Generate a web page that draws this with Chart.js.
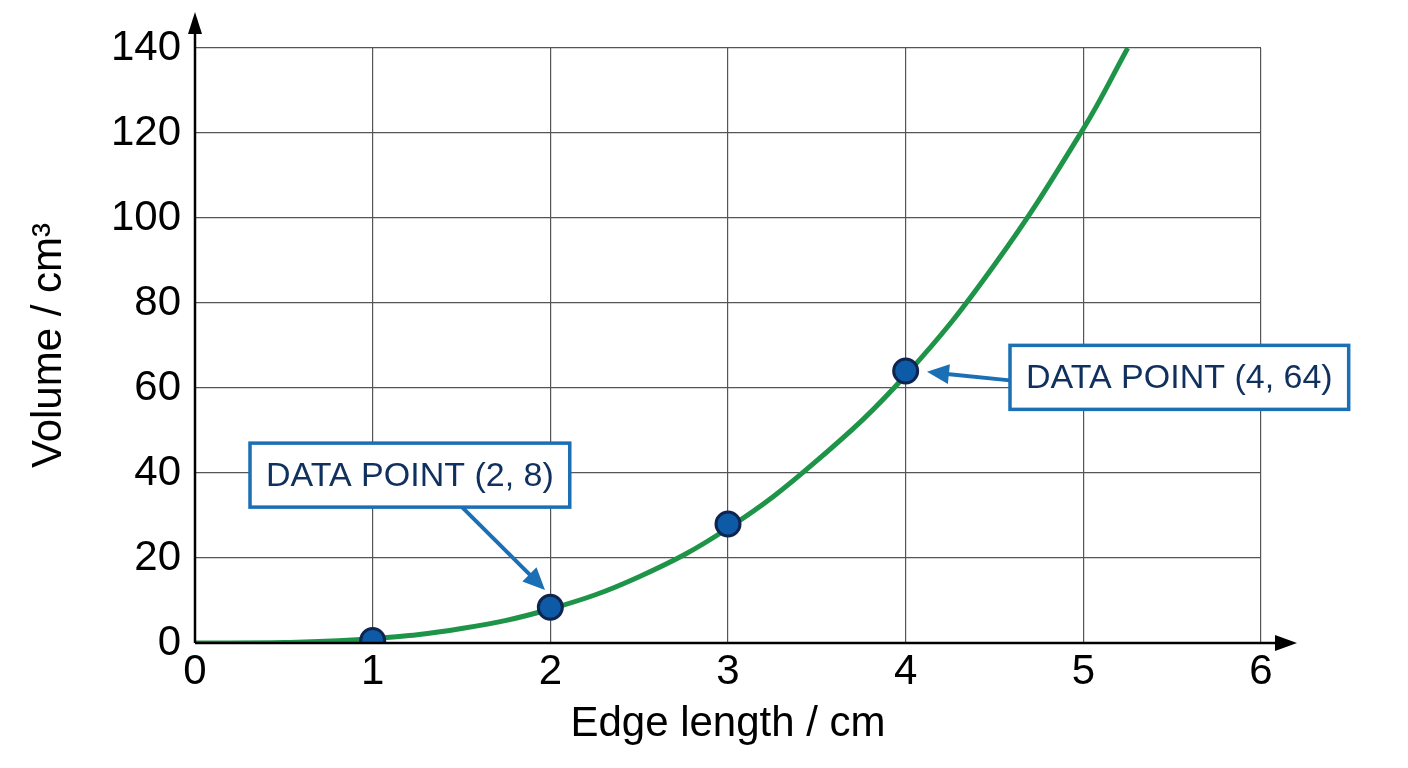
<!DOCTYPE html>
<html><head><meta charset="utf-8">
<script src="https://cdn.jsdelivr.net/npm/chart.js@4"></script>
<style>html,body{margin:0;background:#fff}#w{width:1408px;height:768px}</style>
</head><body><div id="w"><canvas id="c"></canvas></div>
<script>
const curveX = [0,0.5,1,1.5,2,2.5,3,3.5,4,4.5,5,5.25];
const curveY = [0,0.12,1,3.4,8,15.6,27,42.9,63,89,121,140];
const pointX = [1,2,3,4];
const pointY = [0.6,8.4,28,64];
const xTicks = [0,1,2,3,4,5,6];
const yTicks = [0,20,40,60,80,100,120,140];
const callouts = [
  {text:'DATA POINT (2, 8)', by:39.5, ax:1.97, ay:12.5, sx:462},
  {text:'DATA POINT (4, 64)', by:62.5, ax:4.12, ay:63.8}
];
const FONT = '"Liberation Sans", Arial, sans-serif';
const deco = {
  id:'deco',
  afterDraw(ch){
    const c=ch.ctx, xs=ch.scales.x, ys=ch.scales.y, a=ch.chartArea;
    c.save();
    c.fillStyle='#000';c.strokeStyle='#000';c.lineWidth=2.5;
    c.beginPath();c.moveTo(a.left,a.bottom);c.lineTo(a.right+30,a.bottom);c.stroke();
    c.beginPath();c.moveTo(a.left,a.bottom);c.lineTo(a.left,a.top-25);c.stroke();
    c.beginPath();c.moveTo(a.right+36,a.bottom);c.lineTo(a.right+14,a.bottom-8);c.lineTo(a.right+14,a.bottom+8);c.fill();
    c.beginPath();c.moveTo(a.left,a.top-36);c.lineTo(a.left-7,a.top-14);c.lineTo(a.left+7,a.top-14);c.fill();
    c.font='34px '+FONT;c.textBaseline='middle';
    callouts.forEach((o,i)=>{
      const py=ys.getPixelForValue(o.by);
      const w=c.measureText(o.text).width+32, h=64;
      const by=py-h/2;
      const bx = i===0 ? 250 : 1010;
      const tx=xs.getPixelForValue(o.ax), ty=ys.getPixelForValue(o.ay);
      const sx = i===0 ? o.sx : bx, sy = i===0 ? by+h : py+3;
      c.strokeStyle='#1a6fb5';c.fillStyle='#1a6fb5';c.lineWidth=4;
      const ang=Math.atan2(ty-sy,tx-sx), L=22;
      const ex=tx-Math.cos(ang)*L*0.8, ey=ty-Math.sin(ang)*L*0.8;
      c.beginPath();c.moveTo(sx,sy);c.lineTo(ex,ey);c.stroke();
      c.beginPath();c.moveTo(tx,ty);
      c.lineTo(tx-Math.cos(ang)*L+Math.sin(ang)*10,ty-Math.sin(ang)*L-Math.cos(ang)*10);
      c.lineTo(tx-Math.cos(ang)*L-Math.sin(ang)*10,ty-Math.sin(ang)*L+Math.cos(ang)*10);c.fill();
      c.fillStyle='#fff';c.fillRect(bx,by,w,h);
      c.lineWidth=3.5;c.strokeRect(bx,by,w,h);
      c.fillStyle='#10305e';c.fillText(o.text,bx+16,by+h/2+1);
    });
    c.restore();
  }
};
new Chart(document.getElementById('c'),{
  type:'scatter',
  data:{datasets:[
    {type:'line',data:pointX.map((x,i)=>({x,y:pointY[i]})),showLine:false,pointRadius:12,pointBackgroundColor:'#0d5aa7',pointBorderColor:'#0f2550',pointBorderWidth:3,order:0},
    {type:'line',data:curveX.map((x,i)=>({x,y:curveY[i]})),borderColor:'#1e9448',borderWidth:5,pointRadius:0,tension:0.4,clip:0,order:1}
  ]},
  options:{responsive:true,maintainAspectRatio:false,animation:false,
    layout:{padding:{left:20,top:48,right:147,bottom:18}},
    plugins:{legend:{display:false},tooltip:{enabled:false}},
    scales:{
      x:{type:'linear',min:0,max:6,afterBuildTicks:s=>{s.ticks=xTicks.map(v=>({value:v}));},
        afterFit:s=>{s.height=107;},
        grid:{color:'#555',lineWidth:1.2,drawTicks:false},border:{display:false},
        ticks:{color:'#000',font:{size:42,family:FONT},padding:4},
        title:{display:true,text:'Edge length / cm',color:'#000',font:{size:42,family:FONT},padding:{top:0,bottom:0}}},
      y:{type:'linear',min:0,max:140,afterBuildTicks:s=>{s.ticks=yTicks.map(v=>({value:v}));},
        afterFit:s=>{s.width=175;},
        grid:{color:'#555',lineWidth:1.2,drawTicks:false},border:{display:false},
        ticks:{color:'#000',font:{size:42,family:FONT},padding:14},
        title:{display:true,text:'Volume / cm³',color:'#000',font:{size:42,family:FONT},padding:{bottom:0}}}
    }},
  plugins:[deco]
});
</script></body></html>
